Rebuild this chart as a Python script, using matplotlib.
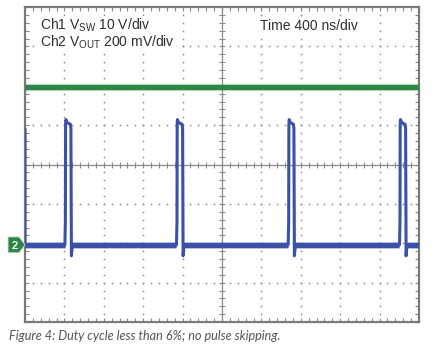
import numpy as np
import matplotlib
matplotlib.use("Agg")
import matplotlib.pyplot as plt
from matplotlib.patches import Polygon
from matplotlib.transforms import blended_transform_factory

plt.rcParams['font.family'] = ['Liberation Sans', 'DejaVu Sans']
plt.rcParams['mathtext.fontset'] = 'custom'
plt.rcParams['mathtext.rm'] = 'Liberation Sans'

# screen: 10 divisions x 400 ns, 8 vertical divisions (levels in divisions)
ns_per_div = 400
n_xdiv = 10
n_ydiv = 8

# Ch2 output level (div)
vout_level = 1.97

# Ch1 switch node pulses (ns) and levels (div)
rise_ns = [413, 1546, 2680, 3810]
fall_ns = [467, 1601, 2731, 3865]
sw_start = 0.88
sw_low = -2.04
sw_high = 1.02
sw_peak = 1.14
sw_foot = -1.45
sw_undershoot = -2.32

green = '#2b8744'
blue = '#3a51a8'
grid_c = '#8a8a8a'

fig = plt.figure(figsize=(4.39, 3.56), dpi=100)
ax = fig.add_axes([25 / 439, 1 - 322 / 356, 394 / 439, 315 / 356])
xmax = n_xdiv * ns_per_div
ax.set_xlim(0, xmax)
ax.set_ylim(-n_ydiv / 2, n_ydiv / 2)

# dotted graticule
minor_x = np.arange(0, xmax + 1, ns_per_div / 5)
minor_y = np.arange(-4, 4.01, 0.2)
for gx in range(1, n_xdiv):
    if gx == n_xdiv // 2:
        continue
    ax.plot(np.full(minor_y.size, gx * ns_per_div), minor_y, ls='none',
            marker='s', ms=1.1, mec='none', mfc=grid_c, zorder=1)
for gy in range(-3, 4):
    if gy == 0:
        continue
    ax.plot(minor_x, np.full(minor_x.size, gy), ls='none',
            marker='s', ms=1.1, mec='none', mfc=grid_c, zorder=1)

# centre cross with ticks
ax.axhline(0, color=grid_c, lw=0.9, zorder=1)
ax.axvline(xmax / 2, color=grid_c, lw=0.9, zorder=1)
ax.plot(minor_x, np.zeros(minor_x.size), ls='none', marker='|', ms=5,
        mew=0.8, color=grid_c, zorder=1)
ax.plot(np.full(minor_y.size, xmax / 2), minor_y, ls='none', marker='_',
        ms=5, mew=0.8, color=grid_c, zorder=1)

# Ch2 trace (noise band)
ax.plot([0, xmax], [vout_level, vout_level], color=green, lw=5.2,
        alpha=0.35, solid_capstyle='butt', zorder=3)
ax.plot([0, xmax], [vout_level, vout_level], color=green, lw=3.6,
        solid_capstyle='butt', zorder=3)

# Ch1 trace
t = [0, 0]
v = [sw_start, sw_low]
for r, f in zip(rise_ns, fall_ns):
    t += [r - 8, r - 3, r - 1, r + 2, r + 12, f - 6, f - 1, f + 4, f + 14]
    v += [sw_low, sw_foot, sw_high, sw_peak, sw_high + 0.05, sw_high,
          sw_high - 0.1, sw_undershoot, sw_low]
t += [xmax]
v += [sw_low]
ax.plot(t, v, color=blue, lw=2.2, zorder=4)
# thicker noise band on the low level between pulses
starts = [0] + [f + 14 for f in fall_ns]
ends = [r - 8 for r in rise_ns] + [xmax]
for s, e in zip(starts, ends):
    ax.plot([s, e], [sw_low, sw_low], color=blue, lw=5.0, alpha=0.35,
            solid_capstyle='butt', zorder=4)
    ax.plot([s, e], [sw_low, sw_low], color=blue, lw=3.6,
            solid_capstyle='butt', zorder=4)

# ch2 marker
tr = blended_transform_factory(ax.transAxes, ax.transData)
ax.add_patch(Polygon([[-0.043, sw_low + 0.2], [-0.015, sw_low + 0.2],
                      [0.0, sw_low], [-0.015, sw_low - 0.2],
                      [-0.043, sw_low - 0.2]], closed=True, fc=green,
                     ec='#d0d0d0', lw=0.6, transform=tr, clip_on=False,
                     zorder=5))
ax.text(-0.026, sw_low - 0.02, '2', transform=tr, ha='center', va='center',
        color='white', fontsize=8, fontweight='bold', zorder=6)

# frame and ticks
ax.set_xticks(np.arange(0, xmax + 1, ns_per_div))
ax.set_yticks(np.arange(-4, 5, 1))
ax.set_xticks(minor_x, minor=True)
ax.set_yticks(minor_y, minor=True)
ax.tick_params(which='both', direction='in', top=True, right=True,
               labelbottom=False, labelleft=False, length=3, width=0.8,
               color=grid_c)
for sp in ax.spines.values():
    sp.set_color('#7a7a7a')
    sp.set_linewidth(1.6)

txt = '#2f2f2f'
box = dict(fc='white', ec='none', pad=0.5)
fig.text(40 / 439, 1 - 30 / 356, r'Ch1 V$_\mathrm{SW}$ 10 V/div', fontsize=10,
         color=txt, va='baseline', bbox=box)
fig.text(40 / 439, 1 - 47 / 356, r'Ch2 V$_\mathrm{OUT}$ 200 mV/div',
         fontsize=10, color=txt, va='baseline', bbox=box)
fig.text(260 / 439, 1 - 30 / 356, 'Time 400 ns/div', fontsize=10, color=txt,
         va='baseline', bbox=box)

fig.text(9 / 439, 1 - 340 / 356,
         'Figure 4: Duty cycle less than 6%; no pulse skipping.',
         fontsize=9.1, style='italic', color='#555555', va='baseline',
         family=['Lato', 'DejaVu Sans'])

fig.savefig('out.png', dpi=100)
